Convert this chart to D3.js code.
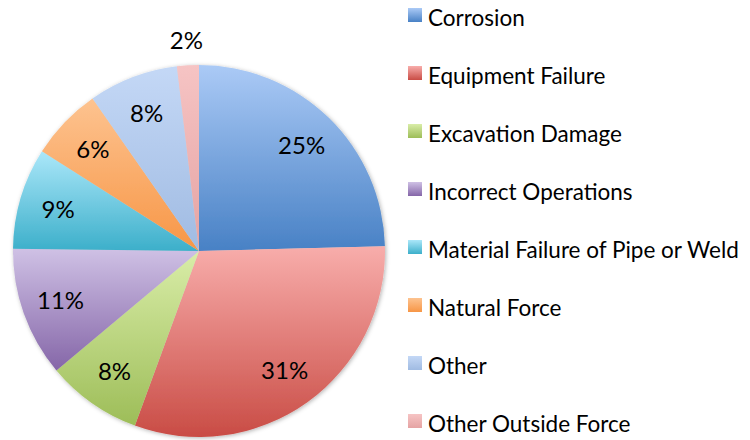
<!DOCTYPE html>
<html>
<head>
<meta charset="utf-8">
<script src="https://cdn.jsdelivr.net/npm/d3@7"></script>
<style>
  body { margin: 0; background: #fff; }
  svg text { font-family: Lato, "Open Sans", sans-serif; fill: #000; }
</style>
</head>
<body>
<div id="chart"></div>
<script>
var svgWidth = 750;
var svgHeight = 440;

// percentages
var causes = ["Corrosion", "Equipment Failure", "Excavation Damage", "Incorrect Operations",
  "Material Failure of Pipe or Weld", "Natural Force", "Other", "Other Outside Force"];
var shares = [24.6, 31.0, 8.3, 11.3, 8.8, 6.3, 7.8, 1.9];

// gradient colours per slice: light top, dark bottom
var topColors = ["#abcaf6", "#f8adab", "#d9eda8", "#cfc1e5", "#abe7f9", "#fdc390", "#c4d8f6", "#f6c4c4"];
var bottomColors = ["#4881c5", "#c94c45", "#9dbd58", "#8566a8", "#3cafca", "#f79646", "#a0bbe2", "#e5a3a3"];

var cx = 199, cy = 251, radius = 186;

var svg = d3.select("#chart")
  .append("svg")
  .attr("width", svgWidth)
  .attr("height", svgHeight);

var defs = svg.append("defs");

causes.forEach(function(c, i) {
  var g = defs.append("linearGradient")
    .attr("id", "grad" + i)
    .attr("x1", 0).attr("y1", 0)
    .attr("x2", 0).attr("y2", 1);
  g.append("stop").attr("offset", "0%").attr("stop-color", topColors[i]);
  g.append("stop").attr("offset", "100%").attr("stop-color", bottomColors[i]);
});

var shadow = defs.append("filter")
  .attr("id", "shadow")
  .attr("x", "-10%").attr("y", "-10%")
  .attr("width", "120%").attr("height", "120%");
shadow.append("feDropShadow")
  .attr("dx", 1).attr("dy", 1)
  .attr("stdDeviation", 2)
  .attr("flood-color", "#000")
  .attr("flood-opacity", 0.3);

var pie = d3.pie().sort(null).value(d => d);
var arcs = pie(shares);

var arc = d3.arc().innerRadius(0).outerRadius(radius);
var labelArc = d3.arc().innerRadius(147).outerRadius(147);
var outerLabelArc = d3.arc().innerRadius(211).outerRadius(211);

var pieGroup = svg.append("g")
  .attr("transform", `translate(${cx}, ${cy})`);

var sliceGroup = pieGroup.append("g").attr("filter", "url(#shadow)");

sliceGroup.selectAll("path")
  .data(arcs)
  .enter()
  .append("path")
  .attr("d", arc)
  .attr("fill", (d, i) => "url(#grad" + i + ")");

pieGroup.selectAll("text.pct")
  .data(arcs)
  .enter()
  .append("text")
  .attr("class", "pct")
  .attr("transform", function(d) {
    var p = d.data < 3 ? outerLabelArc.centroid(d) : labelArc.centroid(d);
    return `translate(${p[0]}, ${p[1]})`;
  })
  .attr("text-anchor", "middle")
  .attr("dy", "0.36em")
  .style("font-size", "24px")
  .text(d => Math.round(d.data) + "%");

// legend
var legend = svg.append("g")
  .attr("transform", "translate(408, 8)");

var rows = legend.selectAll("g")
  .data(causes)
  .enter()
  .append("g")
  .attr("transform", (d, i) => `translate(0, ${i * 58})`);

rows.append("rect")
  .attr("width", 14)
  .attr("height", 14)
  .attr("fill", (d, i) => "url(#grad" + i + ")");

rows.append("text")
  .attr("x", 20)
  .attr("y", 10)
  .attr("dy", "0.36em")
  .style("font-size", "22.5px")
  .text(d => d);
</script>
</body>
</html>
